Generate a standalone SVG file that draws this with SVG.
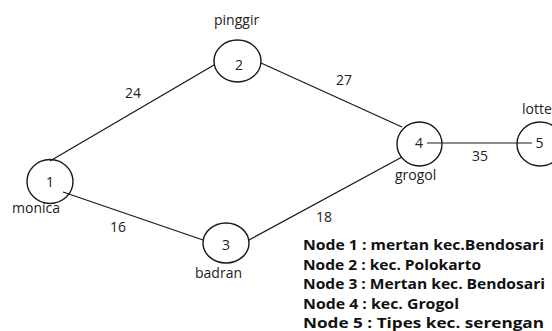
<svg xmlns="http://www.w3.org/2000/svg" width="552" height="331" viewBox="0 0 552 331">
<style>
.node{fill:none;stroke:#1a1a1a;stroke-width:1.4}
.edge{stroke:#1a1a1a;stroke-width:1.3;fill:none}
.thin{stroke-width:1}
.num{font-family:"Open Sans","Noto Sans",sans-serif;font-size:14px;fill:#222;text-anchor:middle}
.lbl{font-family:"Open Sans","Noto Sans",sans-serif;font-size:14px;fill:#222}
.leg{font-family:"Open Sans","Noto Sans",sans-serif;font-size:14.5px;font-weight:bold;fill:#111}
</style>
<rect width="552" height="331" fill="#fff"/>
<g id="connectors">
<line class="edge" x1="50" y1="161" x2="214" y2="65"/>
<line class="edge" x1="261" y1="63" x2="402" y2="127"/>
<line class="edge" x1="63" y1="192" x2="203" y2="240"/>
<line class="edge" x1="249" y1="240" x2="402" y2="157"/>
<line class="edge thin" x1="427" y1="143" x2="532" y2="143"/>
<text class="lbl" x="125" y="98">24</text>
<text class="lbl" x="336" y="85">27</text>
<text class="lbl" x="110" y="232">16</text>
<text class="lbl" x="316" y="222">18</text>
<text class="lbl" x="472" y="161">35</text>
</g>
<g id="node1">
<ellipse class="node" cx="50" cy="181.5" rx="23" ry="22"/>
<text class="num" x="50" y="187">1</text>
<text class="lbl" x="12" y="213">monica</text>
</g>
<g id="node2">
<ellipse class="node" cx="237.5" cy="61" rx="23.5" ry="21"/>
<text class="num" x="239" y="70">2</text>
<text class="lbl" x="214" y="25">pinggir</text>
</g>
<g id="node3">
<ellipse class="node" cx="226" cy="243" rx="23" ry="20"/>
<text class="num" x="226" y="250">3</text>
<text class="lbl" x="195" y="278">badran</text>
</g>
<g id="node4">
<ellipse class="node" cx="419.5" cy="144" rx="22.5" ry="22"/>
<text class="num" x="419" y="148">4</text>
<text class="lbl" x="395" y="180">grogol</text>
</g>
<g id="node5">
<ellipse class="node" cx="540" cy="144" rx="23" ry="22"/>
<text class="num" x="539.5" y="148">5</text>
<text class="lbl" x="522" y="114">lotte</text>
</g>
<g id="legend">
<text class="leg" x="303" y="250" textLength="241" lengthAdjust="spacingAndGlyphs">Node 1 : mertan kec.Bendosari</text>
<text class="leg" x="303" y="269.5" textLength="178" lengthAdjust="spacingAndGlyphs">Node 2 : kec. Polokarto</text>
<text class="leg" x="303" y="289" textLength="242" lengthAdjust="spacingAndGlyphs">Node 3 : Mertan kec. Bendosari</text>
<text class="leg" x="303" y="308.5" textLength="156" lengthAdjust="spacingAndGlyphs">Node 4 : kec. Grogol</text>
<text class="leg" x="303" y="328" textLength="241" lengthAdjust="spacingAndGlyphs">Node 5 : Tipes kec. serengan</text>
</g>
</svg>
